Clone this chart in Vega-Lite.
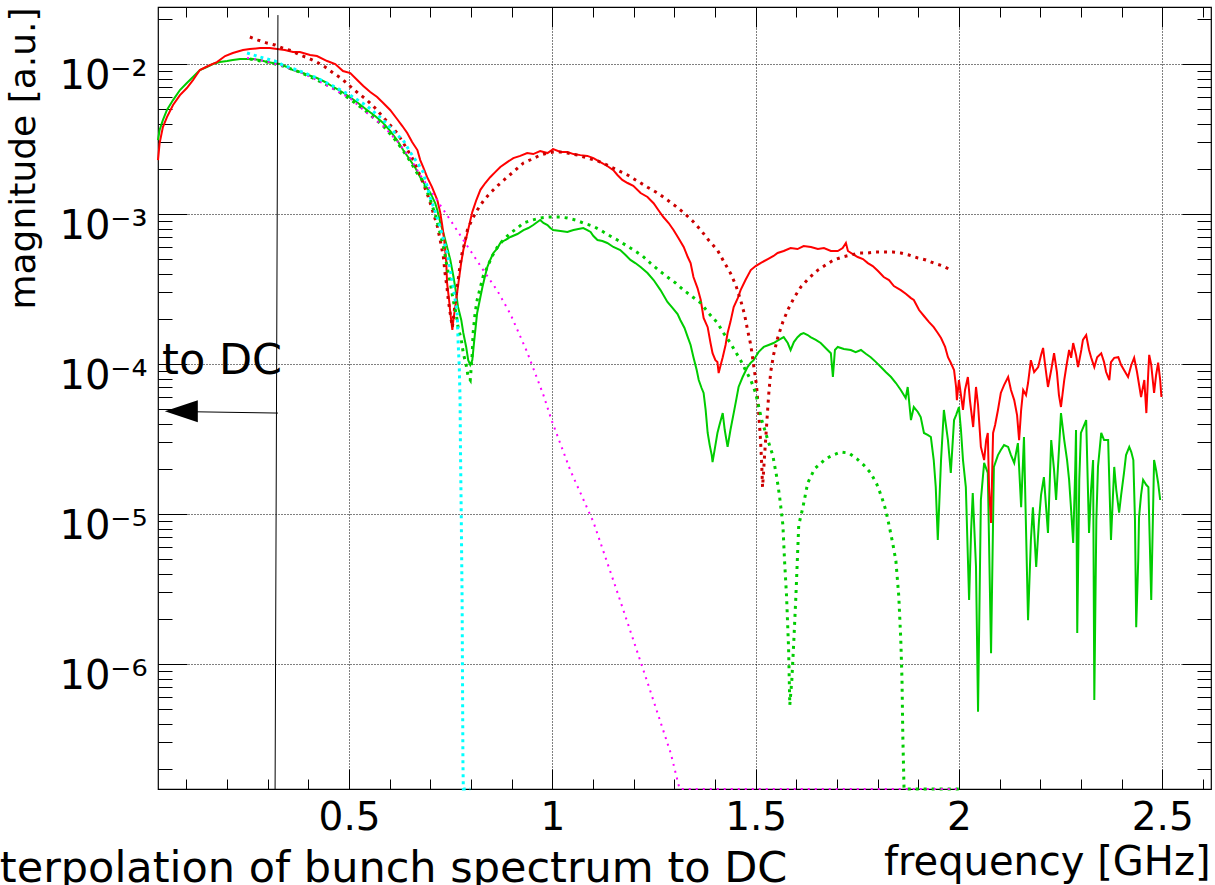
{
"$schema": "https://vega.github.io/schema/vega-lite/v6.json",
"width": 1053, "height": 782,
"autosize": {"type": "none"},
"padding": {"left": 158, "top": 7, "right": 4, "bottom": 96},
"background": "white",
"config": {
  "view": {"stroke": "#000", "strokeWidth": 1.2},
  "font": "DejaVu Sans",
  "axis": {"labelFont": "DejaVu Sans", "titleFont": "DejaVu Sans", "labelColor": "#000", "titleColor": "#000", "tickColor": "#000", "tickWidth": 1, "domain": false, "labelFlush": false, "labelOverlap": false, "labelBound": false, "titleFontWeight": "normal"}
},
"datasets": {
"redMeas": [
{"f":0.030,"m":2.29e-3},{"f":0.034,"m":2.97e-3},{"f":0.042,"m":3.80e-3},{"f":0.052,"m":4.43e-3},{"f":0.067,"m":5.33e-3},{"f":0.084,"m":6.21e-3},{"f":0.101,"m":6.92e-3},{"f":0.116,"m":7.82e-3},{"f":0.133,"m":9.12e-3},{"f":0.153,"m":9.70e-3},{"f":0.175,"m":1.031e-2},{"f":0.195,"m":1.131e-2},{"f":0.214,"m":1.184e-2},{"f":0.239,"m":1.240e-2},{"f":0.256,"m":1.259e-2},{"f":0.281,"m":1.278e-2},{"f":0.305,"m":1.278e-2},{"f":0.323,"m":1.259e-2},{"f":0.342,"m":1.240e-2},{"f":0.362,"m":1.202e-2},{"f":0.379,"m":1.202e-2},{"f":0.404,"m":1.148e-2},{"f":0.421,"m":1.131e-2},{"f":0.446,"m":1.047e-2},{"f":0.466,"m":1.0e-2},{"f":0.485,"m":8.98e-3},{"f":0.503,"m":8.71e-3},{"f":0.520,"m":7.82e-3},{"f":0.535,"m":7.13e-3},{"f":0.552,"m":6.51e-3},{"f":0.569,"m":6.03e-3},{"f":0.584,"m":5.50e-3},{"f":0.601,"m":4.94e-3},{"f":0.618,"m":4.30e-3},{"f":0.631,"m":3.86e-3},{"f":0.643,"m":3.47e-3},{"f":0.655,"m":3.02e-3},{"f":0.668,"m":2.67e-3},{"f":0.675,"m":2.29e-3},{"f":0.682,"m":2.06e-3},{"f":0.692,"m":1.76e-3},{"f":0.704,"m":1.51e-3},{"f":0.717,"m":1.24e-3},{"f":0.724,"m":1.03e-3},{"f":0.729,"m":8.45e-4},{"f":0.734,"m":6.71e-4},{"f":0.739,"m":4.79e-4},{"f":0.741,"m":3.47e-4},{"f":0.746,"m":2.67e-4},{"f":0.749,"m":2.19e-4},{"f":0.754,"m":1.69e-4},{"f":0.756,"m":1.91e-4},{"f":0.761,"m":2.40e-4},{"f":0.766,"m":3.02e-4},{"f":0.769,"m":3.47e-4},{"f":0.776,"m":4.79e-4},{"f":0.781,"m":5.75e-4},{"f":0.791,"m":7.47e-4},{"f":0.803,"m":1.03e-3},{"f":0.813,"m":1.24e-3},{"f":0.823,"m":1.45e-3},{"f":0.835,"m":1.61e-3},{"f":0.847,"m":1.76e-3},{"f":0.860,"m":1.91e-3},{"f":0.872,"m":2.06e-3},{"f":0.889,"m":2.22e-3},{"f":0.904,"m":2.36e-3},{"f":0.921,"m":2.44e-3},{"f":0.938,"m":2.55e-3},{"f":0.953,"m":2.51e-3},{"f":0.970,"m":2.63e-3},{"f":0.988,"m":2.55e-3},{"f":1.002,"m":2.71e-3},{"f":1.020,"m":2.59e-3},{"f":1.037,"m":2.59e-3},{"f":1.052,"m":2.51e-3},{"f":1.069,"m":2.47e-3},{"f":1.086,"m":2.44e-3},{"f":1.101,"m":2.36e-3},{"f":1.118,"m":2.22e-3},{"f":1.135,"m":2.09e-3},{"f":1.150,"m":1.96e-3},{"f":1.160,"m":1.82e-3},{"f":1.172,"m":1.69e-3},{"f":1.185,"m":1.61e-3},{"f":1.199,"m":1.54e-3},{"f":1.217,"m":1.38e-3},{"f":1.234,"m":1.30e-3},{"f":1.249,"m":1.18e-3},{"f":1.261,"m":1.06e-3},{"f":1.273,"m":9.55e-4},{"f":1.286,"m":8.71e-4},{"f":1.298,"m":7.82e-4},{"f":1.310,"m":6.92e-4},{"f":1.323,"m":6.03e-4},{"f":1.333,"m":5.17e-4},{"f":1.340,"m":4.71e-4},{"f":1.347,"m":3.80e-4},{"f":1.357,"m":3.21e-4},{"f":1.365,"m":2.67e-4},{"f":1.372,"m":2.03e-4},{"f":1.382,"m":1.76e-4},{"f":1.389,"m":1.38e-4},{"f":1.394,"m":1.18e-4},{"f":1.401,"m":1.06e-4},{"f":1.406,"m":1.03e-4},{"f":1.409,"m":8.71e-5},{"f":1.414,"m":9.85e-5},{"f":1.419,"m":1.11e-4},{"f":1.426,"m":1.34e-4},{"f":1.431,"m":1.61e-4},{"f":1.438,"m":1.91e-4},{"f":1.446,"m":2.40e-4},{"f":1.456,"m":2.75e-4},{"f":1.463,"m":3.11e-4},{"f":1.475,"m":3.63e-4},{"f":1.488,"m":4.23e-4},{"f":1.500,"m":4.50e-4},{"f":1.512,"m":4.71e-4},{"f":1.530,"m":5.01e-4},{"f":1.544,"m":5.25e-4},{"f":1.554,"m":5.50e-4},{"f":1.569,"m":5.67e-4},{"f":1.586,"m":5.93e-4},{"f":1.603,"m":5.84e-4},{"f":1.618,"m":6.12e-4},{"f":1.636,"m":6.03e-4},{"f":1.653,"m":5.84e-4},{"f":1.668,"m":5.93e-4},{"f":1.685,"m":5.67e-4},{"f":1.702,"m":5.67e-4},{"f":1.714,"m":5.93e-4},{"f":1.722,"m":6.41e-4},{"f":1.727,"m":5.67e-4},{"f":1.739,"m":5.41e-4},{"f":1.751,"m":5.17e-4},{"f":1.764,"m":5.01e-4},{"f":1.776,"m":4.71e-4},{"f":1.788,"m":4.50e-4},{"f":1.801,"m":4.17e-4},{"f":1.815,"m":3.80e-4},{"f":1.828,"m":3.63e-4},{"f":1.840,"m":3.31e-4},{"f":1.857,"m":3.11e-4},{"f":1.870,"m":2.93e-4},{"f":1.882,"m":2.75e-4},{"f":1.889,"m":2.67e-4},{"f":1.902,"m":2.29e-4},{"f":1.914,"m":2.09e-4},{"f":1.926,"m":1.91e-4},{"f":1.938,"m":1.76e-4},{"f":1.948,"m":1.61e-4},{"f":1.956,"m":1.49e-4},{"f":1.966,"m":1.30e-4},{"f":1.973,"m":1.11e-4},{"f":1.980,"m":1.02e-4},{"f":1.988,"m":9.12e-5},{"f":1.993,"m":7.03e-5},{"f":1.995,"m":5.75e-5},{"f":2.000,"m":7.82e-5},{"f":2.005,"m":6.21e-5},{"f":2.010,"m":4.94e-5},{"f":2.015,"m":6.71e-5},{"f":2.022,"m":8.19e-5},{"f":2.027,"m":5.75e-5},{"f":2.035,"m":3.80e-5},{"f":2.042,"m":7.03e-5},{"f":2.047,"m":5.33e-5},{"f":2.054,"m":2.80e-5},{"f":2.062,"m":2.29e-5},{"f":2.067,"m":3.11e-5},{"f":2.071,"m":3.47e-5},{"f":2.074,"m":1.51e-5},{"f":2.079,"m":8.71e-6},{"f":2.084,"m":3.47e-5},{"f":2.089,"m":3.92e-5},{"f":2.096,"m":4.94e-5},{"f":2.103,"m":6.41e-5},{"f":2.111,"m":7.24e-5},{"f":2.121,"m":8.19e-5},{"f":2.128,"m":6.71e-5},{"f":2.136,"m":5.75e-5},{"f":2.143,"m":4.57e-5},{"f":2.148,"m":3.11e-5},{"f":2.153,"m":4.94e-5},{"f":2.158,"m":6.71e-5},{"f":2.165,"m":6.21e-5},{"f":2.170,"m":7.47e-5},{"f":2.177,"m":1.06e-4},{"f":2.185,"m":8.84e-5},{"f":2.195,"m":9.55e-5},{"f":2.202,"m":1.15e-4},{"f":2.207,"m":1.28e-4},{"f":2.212,"m":9.85e-5},{"f":2.219,"m":7.03e-5},{"f":2.227,"m":9.12e-5},{"f":2.234,"m":1.18e-4},{"f":2.241,"m":8.84e-5},{"f":2.246,"m":6.21e-5},{"f":2.251,"m":5.17e-5},{"f":2.259,"m":7.82e-5},{"f":2.264,"m":9.55e-5},{"f":2.271,"m":1.24e-4},{"f":2.276,"m":1.10e-4},{"f":2.281,"m":1.38e-4},{"f":2.288,"m":1.15e-4},{"f":2.293,"m":9.55e-5},{"f":2.301,"m":1.24e-4},{"f":2.305,"m":1.45e-4},{"f":2.313,"m":1.56e-4},{"f":2.320,"m":1.24e-4},{"f":2.325,"m":1.11e-4},{"f":2.333,"m":9.55e-5},{"f":2.340,"m":1.11e-4},{"f":2.350,"m":1.18e-4},{"f":2.357,"m":1.03e-4},{"f":2.362,"m":8.84e-5},{"f":2.370,"m":7.82e-5},{"f":2.374,"m":1.03e-4},{"f":2.382,"m":1.10e-4},{"f":2.392,"m":1.11e-4},{"f":2.399,"m":9.85e-5},{"f":2.406,"m":9.12e-5},{"f":2.416,"m":8.19e-5},{"f":2.424,"m":9.85e-5},{"f":2.431,"m":1.10e-4},{"f":2.438,"m":8.84e-5},{"f":2.448,"m":6.03e-5},{"f":2.456,"m":7.82e-5},{"f":2.461,"m":4.71e-5},{"f":2.466,"m":9.12e-5},{"f":2.468,"m":1.15e-4},{"f":2.473,"m":9.85e-5},{"f":2.480,"m":6.41e-5},{"f":2.485,"m":8.45e-5},{"f":2.490,"m":1.02e-4},{"f":2.495,"m":7.82e-5},{"f":2.498,"m":6.03e-5}
],
"redModel": [
{"f":0.256,"m":1.514e-2},{"f":0.276,"m":1.445e-2},{"f":0.298,"m":1.380e-2},{"f":0.318,"m":1.339e-2},{"f":0.337,"m":1.278e-2},{"f":0.360,"m":1.221e-2},{"f":0.379,"m":1.148e-2},{"f":0.399,"m":1.097e-2},{"f":0.421,"m":1.031e-2},{"f":0.441,"m":9.55e-3},{"f":0.461,"m":8.71e-3},{"f":0.483,"m":7.94e-3},{"f":0.502,"m":7.13e-3},{"f":0.522,"m":6.41e-3},{"f":0.544,"m":5.75e-3},{"f":0.564,"m":5.09e-3},{"f":0.584,"m":4.43e-3},{"f":0.601,"m":3.92e-3},{"f":0.618,"m":3.47e-3},{"f":0.638,"m":2.84e-3},{"f":0.658,"m":2.29e-3},{"f":0.670,"m":1.93e-3},{"f":0.682,"m":1.61e-3},{"f":0.695,"m":1.30e-3},{"f":0.707,"m":1.02e-3},{"f":0.717,"m":8.32e-4},{"f":0.724,"m":6.71e-4},{"f":0.732,"m":5.17e-4},{"f":0.736,"m":4.04e-4},{"f":0.741,"m":3.21e-4},{"f":0.744,"m":2.67e-4},{"f":0.749,"m":2.15e-4},{"f":0.754,"m":1.76e-4},{"f":0.759,"m":2.29e-4},{"f":0.766,"m":3.26e-4},{"f":0.773,"m":4.57e-4},{"f":0.778,"m":5.50e-4},{"f":0.786,"m":6.71e-4},{"f":0.791,"m":7.82e-4},{"f":0.803,"m":9.26e-4},{"f":0.815,"m":1.06e-3},{"f":0.830,"m":1.22e-3},{"f":0.847,"m":1.38e-3},{"f":0.867,"m":1.56e-3},{"f":0.889,"m":1.76e-3},{"f":0.909,"m":1.96e-3},{"f":0.929,"m":2.19e-3},{"f":0.951,"m":2.33e-3},{"f":0.970,"m":2.47e-3},{"f":0.988,"m":2.55e-3},{"f":1.002,"m":2.59e-3},{"f":1.020,"m":2.59e-3},{"f":1.037,"m":2.55e-3},{"f":1.062,"m":2.47e-3},{"f":1.086,"m":2.36e-3},{"f":1.111,"m":2.26e-3},{"f":1.135,"m":2.12e-3},{"f":1.160,"m":1.96e-3},{"f":1.185,"m":1.82e-3},{"f":1.209,"m":1.66e-3},{"f":1.234,"m":1.51e-3},{"f":1.259,"m":1.38e-3},{"f":1.283,"m":1.24e-3},{"f":1.303,"m":1.13e-3},{"f":1.323,"m":1.02e-3},{"f":1.345,"m":8.98e-4},{"f":1.365,"m":7.82e-4},{"f":1.384,"m":6.71e-4},{"f":1.406,"m":5.75e-4},{"f":1.421,"m":4.86e-4},{"f":1.438,"m":4.04e-4},{"f":1.451,"m":3.36e-4},{"f":1.463,"m":2.67e-4},{"f":1.473,"m":2.12e-4},{"f":1.480,"m":1.69e-4},{"f":1.488,"m":1.34e-4},{"f":1.495,"m":9.85e-5},{"f":1.502,"m":7.24e-5},{"f":1.507,"m":4.94e-5},{"f":1.512,"m":3.11e-5},{"f":1.515,"m":2.12e-5},{"f":1.517,"m":1.51e-5},{"f":1.522,"m":2.47e-5},{"f":1.527,"m":3.92e-5},{"f":1.532,"m":6.21e-5},{"f":1.537,"m":8.84e-5},{"f":1.544,"m":1.15e-4},{"f":1.554,"m":1.49e-4},{"f":1.567,"m":1.91e-4},{"f":1.579,"m":2.29e-4},{"f":1.594,"m":2.75e-4},{"f":1.611,"m":3.26e-4},{"f":1.631,"m":3.74e-4},{"f":1.653,"m":4.23e-4},{"f":1.672,"m":4.57e-4},{"f":1.692,"m":4.94e-4},{"f":1.714,"m":5.17e-4},{"f":1.734,"m":5.33e-4},{"f":1.754,"m":5.50e-4},{"f":1.776,"m":5.50e-4},{"f":1.796,"m":5.58e-4},{"f":1.815,"m":5.58e-4},{"f":1.837,"m":5.58e-4},{"f":1.857,"m":5.50e-4},{"f":1.877,"m":5.33e-4},{"f":1.899,"m":5.09e-4},{"f":1.919,"m":4.94e-4},{"f":1.938,"m":4.71e-4},{"f":1.961,"m":4.50e-4},{"f":1.980,"m":4.23e-4}
],
"greenMeas": [
{"f":0.030,"m":3.11e-3},{"f":0.034,"m":3.63e-3},{"f":0.042,"m":4.23e-3},{"f":0.052,"m":4.94e-3},{"f":0.067,"m":5.75e-3},{"f":0.084,"m":6.71e-3},{"f":0.101,"m":7.47e-3},{"f":0.116,"m":8.19e-3},{"f":0.133,"m":9.12e-3},{"f":0.150,"m":9.55e-3},{"f":0.165,"m":1.0e-2},{"f":0.182,"m":1.031e-2},{"f":0.200,"m":1.047e-2},{"f":0.214,"m":1.063e-2},{"f":0.232,"m":1.080e-2},{"f":0.249,"m":1.080e-2},{"f":0.264,"m":1.080e-2},{"f":0.281,"m":1.063e-2},{"f":0.298,"m":1.031e-2},{"f":0.313,"m":1.016e-2},{"f":0.330,"m":1.0e-2},{"f":0.347,"m":9.55e-3},{"f":0.362,"m":9.12e-3},{"f":0.379,"m":8.84e-3},{"f":0.399,"m":8.45e-3},{"f":0.421,"m":8.07e-3},{"f":0.441,"m":7.59e-3},{"f":0.461,"m":7.03e-3},{"f":0.483,"m":6.51e-3},{"f":0.502,"m":6.03e-3},{"f":0.522,"m":5.50e-3},{"f":0.544,"m":4.94e-3},{"f":0.564,"m":4.50e-3},{"f":0.584,"m":4.04e-3},{"f":0.601,"m":3.58e-3},{"f":0.618,"m":3.11e-3},{"f":0.633,"m":2.67e-3},{"f":0.650,"m":2.29e-3},{"f":0.663,"m":2.03e-3},{"f":0.675,"m":1.76e-3},{"f":0.687,"m":1.56e-3},{"f":0.700,"m":1.38e-3},{"f":0.712,"m":1.18e-3},{"f":0.717,"m":1.06e-3},{"f":0.724,"m":8.84e-4},{"f":0.732,"m":7.47e-4},{"f":0.741,"m":6.03e-4},{"f":0.749,"m":4.94e-4},{"f":0.756,"m":3.92e-4},{"f":0.761,"m":3.26e-4},{"f":0.768,"m":2.40e-4},{"f":0.776,"m":1.96e-4},{"f":0.781,"m":1.61e-4},{"f":0.788,"m":1.30e-4},{"f":0.793,"m":1.06e-4},{"f":0.798,"m":9.85e-5},{"f":0.803,"m":1.06e-4},{"f":0.808,"m":1.45e-4},{"f":0.815,"m":2.19e-4},{"f":0.823,"m":2.80e-4},{"f":0.828,"m":3.26e-4},{"f":0.835,"m":3.92e-4},{"f":0.840,"m":4.43e-4},{"f":0.847,"m":4.94e-4},{"f":0.855,"m":5.50e-4},{"f":0.865,"m":5.93e-4},{"f":0.872,"m":6.41e-4},{"f":0.884,"m":6.71e-4},{"f":0.897,"m":7.03e-4},{"f":0.914,"m":7.36e-4},{"f":0.929,"m":7.82e-4},{"f":0.941,"m":8.07e-4},{"f":0.953,"m":8.45e-4},{"f":0.963,"m":8.84e-4},{"f":0.970,"m":9.12e-4},{"f":0.978,"m":8.71e-4},{"f":0.988,"m":8.45e-4},{"f":0.995,"m":8.07e-4},{"f":1.002,"m":7.82e-4},{"f":1.020,"m":7.70e-4},{"f":1.037,"m":7.59e-4},{"f":1.044,"m":7.70e-4},{"f":1.052,"m":7.82e-4},{"f":1.064,"m":7.94e-4},{"f":1.076,"m":8.07e-4},{"f":1.086,"m":7.82e-4},{"f":1.094,"m":7.59e-4},{"f":1.101,"m":7.13e-4},{"f":1.111,"m":6.71e-4},{"f":1.123,"m":6.61e-4},{"f":1.135,"m":6.41e-4},{"f":1.150,"m":6.03e-4},{"f":1.167,"m":5.75e-4},{"f":1.180,"m":5.33e-4},{"f":1.192,"m":4.94e-4},{"f":1.204,"m":4.71e-4},{"f":1.217,"m":4.43e-4},{"f":1.234,"m":4.04e-4},{"f":1.249,"m":3.63e-4},{"f":1.266,"m":3.11e-4},{"f":1.283,"m":2.59e-4},{"f":1.296,"m":2.36e-4},{"f":1.308,"m":2.15e-4},{"f":1.315,"m":1.96e-4},{"f":1.325,"m":1.74e-4},{"f":1.333,"m":1.51e-4},{"f":1.340,"m":1.34e-4},{"f":1.347,"m":1.11e-4},{"f":1.355,"m":9.12e-5},{"f":1.360,"m":7.82e-5},{"f":1.367,"m":6.92e-5},{"f":1.372,"m":6.41e-5},{"f":1.377,"m":4.94e-5},{"f":1.382,"m":3.47e-5},{"f":1.387,"m":2.88e-5},{"f":1.392,"m":2.47e-5},{"f":1.394,"m":2.22e-5},{"f":1.399,"m":2.67e-5},{"f":1.406,"m":3.47e-5},{"f":1.411,"m":3.92e-5},{"f":1.419,"m":4.71e-5},{"f":1.424,"m":3.63e-5},{"f":1.431,"m":2.80e-5},{"f":1.438,"m":3.63e-5},{"f":1.446,"m":4.71e-5},{"f":1.453,"m":5.93e-5},{"f":1.458,"m":7.03e-5},{"f":1.468,"m":8.19e-5},{"f":1.480,"m":9.55e-5},{"f":1.488,"m":1.02e-4},{"f":1.495,"m":1.06e-4},{"f":1.507,"m":1.20e-4},{"f":1.520,"m":1.30e-4},{"f":1.532,"m":1.34e-4},{"f":1.544,"m":1.38e-4},{"f":1.557,"m":1.45e-4},{"f":1.569,"m":1.51e-4},{"f":1.579,"m":1.38e-4},{"f":1.586,"m":1.24e-4},{"f":1.594,"m":1.40e-4},{"f":1.603,"m":1.51e-4},{"f":1.611,"m":1.58e-4},{"f":1.618,"m":1.61e-4},{"f":1.628,"m":1.56e-4},{"f":1.635,"m":1.51e-4},{"f":1.648,"m":1.45e-4},{"f":1.660,"m":1.38e-4},{"f":1.672,"m":1.28e-4},{"f":1.685,"m":1.18e-4},{"f":1.690,"m":8.19e-5},{"f":1.695,"m":1.24e-4},{"f":1.702,"m":1.30e-4},{"f":1.717,"m":1.26e-4},{"f":1.734,"m":1.24e-4},{"f":1.746,"m":1.20e-4},{"f":1.759,"m":1.24e-4},{"f":1.771,"m":1.17e-4},{"f":1.783,"m":1.11e-4},{"f":1.796,"m":1.03e-4},{"f":1.808,"m":9.55e-5},{"f":1.820,"m":8.84e-5},{"f":1.833,"m":8.19e-5},{"f":1.845,"m":7.47e-5},{"f":1.857,"m":6.71e-5},{"f":1.869,"m":5.93e-5},{"f":1.874,"m":7.03e-5},{"f":1.882,"m":4.23e-5},{"f":1.889,"m":5.17e-5},{"f":1.899,"m":4.79e-5},{"f":1.906,"m":4.43e-5},{"f":1.914,"m":3.47e-5},{"f":1.924,"m":3.36e-5},{"f":1.931,"m":3.26e-5},{"f":1.938,"m":2.29e-5},{"f":1.943,"m":1.51e-5},{"f":1.948,"m":6.71e-6},{"f":1.956,"m":2.29e-5},{"f":1.963,"m":4.94e-5},{"f":1.973,"m":3.11e-5},{"f":1.980,"m":1.88e-5},{"f":1.988,"m":4.23e-5},{"f":1.993,"m":4.57e-5},{"f":2.000,"m":5.17e-5},{"f":2.005,"m":3.63e-5},{"f":2.010,"m":2.29e-5},{"f":2.017,"m":1.51e-5},{"f":2.025,"m":2.67e-6},{"f":2.030,"m":7.82e-6},{"f":2.034,"m":1.38e-5},{"f":2.042,"m":4.43e-6},{"f":2.047,"m":4.8e-7},{"f":2.054,"m":1.24e-5},{"f":2.062,"m":2.19e-5},{"f":2.071,"m":1.88e-5},{"f":2.079,"m":1.18e-6},{"f":2.086,"m":2.06e-5},{"f":2.096,"m":2.47e-5},{"f":2.103,"m":2.67e-5},{"f":2.111,"m":2.88e-5},{"f":2.121,"m":2.80e-5},{"f":2.128,"m":2.47e-5},{"f":2.136,"m":2.19e-5},{"f":2.145,"m":2.97e-5},{"f":2.153,"m":1.11e-5},{"f":2.160,"m":3.26e-5},{"f":2.170,"m":1.96e-6},{"f":2.177,"m":6.71e-6},{"f":2.182,"m":1.11e-5},{"f":2.190,"m":4.43e-6},{"f":2.197,"m":9.12e-6},{"f":2.202,"m":1.34e-5},{"f":2.209,"m":1.76e-5},{"f":2.219,"m":7.47e-6},{"f":2.227,"m":3.11e-5},{"f":2.234,"m":1.96e-5},{"f":2.239,"m":1.24e-5},{"f":2.246,"m":2.67e-5},{"f":2.251,"m":4.71e-5},{"f":2.259,"m":3.11e-5},{"f":2.266,"m":2.29e-5},{"f":2.271,"m":1.69e-5},{"f":2.276,"m":1.06e-5},{"f":2.281,"m":6.41e-6},{"f":2.286,"m":1.96e-5},{"f":2.288,"m":3.63e-5},{"f":2.291,"m":1.61e-6},{"f":2.296,"m":1.69e-5},{"f":2.300,"m":3.47e-5},{"f":2.308,"m":3.92e-5},{"f":2.313,"m":4.23e-5},{"f":2.320,"m":7.47e-6},{"f":2.325,"m":1.45e-5},{"f":2.330,"m":2.29e-5},{"f":2.333,"m":5.75e-7},{"f":2.338,"m":9.12e-6},{"f":2.342,"m":2.06e-5},{"f":2.350,"m":3.47e-5},{"f":2.357,"m":3.11e-5},{"f":2.367,"m":3.11e-5},{"f":2.374,"m":6.71e-6},{"f":2.382,"m":2.06e-5},{"f":2.387,"m":1.45e-5},{"f":2.394,"m":1.02e-5},{"f":2.399,"m":1.34e-5},{"f":2.406,"m":1.88e-5},{"f":2.411,"m":2.47e-5},{"f":2.419,"m":2.80e-5},{"f":2.424,"m":2.59e-5},{"f":2.429,"m":2.29e-5},{"f":2.433,"m":9.12e-6},{"f":2.436,"m":1.76e-6},{"f":2.441,"m":4.94e-6},{"f":2.443,"m":9.55e-6},{"f":2.448,"m":1.34e-5},{"f":2.453,"m":1.69e-5},{"f":2.461,"m":1.56e-5},{"f":2.466,"m":1.51e-5},{"f":2.473,"m":2.67e-6},{"f":2.478,"m":1.24e-5},{"f":2.480,"m":2.29e-5},{"f":2.485,"m":1.96e-5},{"f":2.490,"m":1.61e-5},{"f":2.495,"m":1.24e-5}
],
"greenModel": [
{"f":0.256,"m":1.080e-2},{"f":0.298,"m":1.031e-2},{"f":0.337,"m":9.70e-3},{"f":0.379,"m":8.84e-3},{"f":0.421,"m":7.82e-3},{"f":0.461,"m":6.92e-3},{"f":0.502,"m":5.84e-3},{"f":0.544,"m":4.79e-3},{"f":0.584,"m":3.86e-3},{"f":0.618,"m":3.02e-3},{"f":0.650,"m":2.26e-3},{"f":0.667,"m":1.88e-3},{"f":0.682,"m":1.66e-3},{"f":0.700,"m":1.24e-3},{"f":0.712,"m":9.85e-4},{"f":0.724,"m":7.47e-4},{"f":0.734,"m":5.75e-4},{"f":0.741,"m":4.43e-4},{"f":0.749,"m":3.47e-4},{"f":0.756,"m":2.67e-4},{"f":0.764,"m":2.12e-4},{"f":0.768,"m":1.76e-4},{"f":0.776,"m":1.45e-4},{"f":0.781,"m":1.18e-4},{"f":0.788,"m":9.85e-5},{"f":0.793,"m":8.19e-5},{"f":0.798,"m":7.82e-5},{"f":0.803,"m":1.18e-4},{"f":0.805,"m":1.61e-4},{"f":0.810,"m":2.19e-4},{"f":0.815,"m":2.67e-4},{"f":0.823,"m":3.26e-4},{"f":0.830,"m":3.86e-4},{"f":0.840,"m":4.43e-4},{"f":0.852,"m":5.25e-4},{"f":0.865,"m":6.03e-4},{"f":0.879,"m":6.71e-4},{"f":0.897,"m":7.47e-4},{"f":0.914,"m":8.07e-4},{"f":0.929,"m":8.71e-4},{"f":0.951,"m":9.12e-4},{"f":0.970,"m":9.40e-4},{"f":0.988,"m":9.55e-4},{"f":1.002,"m":9.55e-4},{"f":1.020,"m":9.55e-4},{"f":1.037,"m":9.40e-4},{"f":1.057,"m":9.12e-4},{"f":1.076,"m":8.71e-4},{"f":1.099,"m":8.32e-4},{"f":1.118,"m":7.82e-4},{"f":1.138,"m":7.24e-4},{"f":1.160,"m":6.71e-4},{"f":1.180,"m":6.21e-4},{"f":1.200,"m":5.75e-4},{"f":1.222,"m":5.25e-4},{"f":1.241,"m":4.71e-4},{"f":1.261,"m":4.23e-4},{"f":1.283,"m":3.80e-4},{"f":1.303,"m":3.47e-4},{"f":1.323,"m":3.11e-4},{"f":1.345,"m":2.80e-4},{"f":1.365,"m":2.55e-4},{"f":1.384,"m":2.19e-4},{"f":1.406,"m":1.88e-4},{"f":1.421,"m":1.61e-4},{"f":1.438,"m":1.38e-4},{"f":1.451,"m":1.20e-4},{"f":1.463,"m":1.06e-4},{"f":1.475,"m":9.12e-5},{"f":1.488,"m":7.82e-5},{"f":1.500,"m":6.41e-5},{"f":1.515,"m":4.23e-5},{"f":1.530,"m":3.11e-5},{"f":1.542,"m":2.47e-5},{"f":1.552,"m":1.76e-5},{"f":1.559,"m":1.30e-5},{"f":1.567,"m":8.45e-6},{"f":1.571,"m":4.94e-6},{"f":1.576,"m":2.84e-6},{"f":1.581,"m":1.28e-6},{"f":1.584,"m":5.33e-7},{"f":1.589,"m":7.82e-7},{"f":1.594,"m":1.45e-6},{"f":1.599,"m":2.84e-6},{"f":1.606,"m":8.45e-6},{"f":1.616,"m":1.10e-5},{"f":1.628,"m":1.61e-5},{"f":1.645,"m":2.00e-5},{"f":1.672,"m":2.33e-5},{"f":1.690,"m":2.47e-5},{"f":1.709,"m":2.59e-5},{"f":1.729,"m":2.55e-5},{"f":1.749,"m":2.33e-5},{"f":1.766,"m":2.12e-5},{"f":1.783,"m":1.88e-5},{"f":1.798,"m":1.58e-5},{"f":1.810,"m":1.30e-5},{"f":1.820,"m":1.06e-5},{"f":1.828,"m":8.45e-6},{"f":1.837,"m":6.41e-6},{"f":1.845,"m":4.86e-6},{"f":1.852,"m":2.84e-6},{"f":1.857,"m":1.45e-6},{"f":1.860,"m":7.82e-7},{"f":1.862,"m":3.31e-7},{"f":1.865,"m":1.468e-7},{"f":2.000,"m":1.468e-7}
],
"cyan": [
{"f":0.249,"m":1.184e-2},{"f":0.281,"m":1.113e-2},{"f":0.318,"m":1.047e-2},{"f":0.337,"m":9.85e-3},{"f":0.379,"m":8.98e-3},{"f":0.421,"m":8.07e-3},{"f":0.461,"m":7.13e-3},{"f":0.502,"m":6.21e-3},{"f":0.544,"m":5.25e-3},{"f":0.584,"m":4.23e-3},{"f":0.613,"m":3.47e-3},{"f":0.633,"m":3.11e-3},{"f":0.650,"m":2.59e-3},{"f":0.667,"m":2.22e-3},{"f":0.682,"m":1.91e-3},{"f":0.700,"m":1.28e-3},{"f":0.712,"m":1.03e-3},{"f":0.724,"m":8.19e-4},{"f":0.734,"m":6.51e-4},{"f":0.741,"m":5.50e-4},{"f":0.749,"m":4.23e-4},{"f":0.756,"m":3.26e-4},{"f":0.761,"m":2.67e-4},{"f":0.766,"m":2.19e-4},{"f":0.768,"m":1.45e-4},{"f":0.771,"m":9.55e-5},{"f":0.773,"m":5.75e-5},{"f":0.774,"m":2.67e-5},{"f":0.776,"m":9.12e-6},{"f":0.778,"m":2.67e-6},{"f":0.779,"m":7.82e-7},{"f":0.780,"m":2.29e-7},{"f":0.781,"m":1.468e-7},{"f":0.798,"m":1.468e-7}
],
"magenta": [
{"f":0.249,"m":1.097e-2},{"f":0.293,"m":1.047e-2},{"f":0.337,"m":9.70e-3},{"f":0.379,"m":8.84e-3},{"f":0.421,"m":7.82e-3},{"f":0.461,"m":6.81e-3},{"f":0.502,"m":5.93e-3},{"f":0.544,"m":4.71e-3},{"f":0.584,"m":3.86e-3},{"f":0.618,"m":3.07e-3},{"f":0.650,"m":2.36e-3},{"f":0.675,"m":1.82e-3},{"f":0.700,"m":1.45e-3},{"f":0.724,"m":1.15e-3},{"f":0.749,"m":9.12e-4},{"f":0.781,"m":6.71e-4},{"f":0.830,"m":4.23e-4},{"f":0.865,"m":3.07e-4},{"f":0.897,"m":2.15e-4},{"f":0.938,"m":1.20e-4},{"f":0.978,"m":6.21e-5},{"f":0.998,"m":4.23e-5},{"f":1.044,"m":1.96e-5},{"f":1.101,"m":8.84e-6},{"f":1.163,"m":2.84e-6},{"f":1.232,"m":7.82e-7},{"f":1.291,"m":2.55e-7},{"f":1.313,"m":1.468e-7},{"f":2.000,"m":1.468e-7}
],
"marker": [{"f":0.318,"m":1.468e-7},{"f":0.325,"m":2.12e-2}],
"arrow": [{"f":0.087,"m":4.82e-5},{"f":0.325,"m":4.71e-5}],
"arrowHead": [{"f":0.0874,"m":4.84e-5}],
"noteDC": [{"t":"to DC","f":0.040,"m":8.58e-5}],
"noteBottom": [{"t":"Interpolation of bunch spectrum to DC","f":1.578,"m":3.52e-8}]
},
"resolve": {"axis": {"x": "independent", "y": "independent"}},
"layer": [
{
 "data": {"name": "greenMeas"},
 "mark": {"type": "line", "color": "#00cc00", "strokeWidth": 2},
 "encoding": {
  "x": {"field": "f", "type": "quantitative", "scale": {"domain": [0.03, 2.62], "nice": false, "zero": false},
   "axis": {"orient": "bottom", "values": [0.5, 1, 1.5, 2, 2.5], "format": "~g", "ticks": false, "labels": true, "labelFontSize": 39, "labelPadding": 9,
    "grid": true, "gridColor": "#000", "gridDash": [1, 2], "gridWidth": 1,
    "title": "frequency [GHz]", "titleFontSize": 40, "titleX": 1052, "titleY": 85, "titleAlign": "right", "titleBaseline": "alphabetic"}},
  "y": {"field": "m", "type": "quantitative", "scale": {"type": "log", "domain": [1.468e-7, 0.024], "nice": false},
   "axis": {"orient": "left", "values": [0.01, 0.001, 0.0001, 0.00001, 0.000001], "ticks": false, "labelFontSize": 40, "labelPadding": 11, "labelBaseline": "alphabetic", "labelOffset": 24,
    "labelExpr": "'10' + (datum.value > 0.005 ? '⁻²' : datum.value > 0.0005 ? '⁻³' : datum.value > 0.00005 ? '⁻⁴' : datum.value > 0.000005 ? '⁻⁵' : '⁻⁶')",
    "grid": true, "gridColor": "#000", "gridDash": [1, 2], "gridWidth": 1,
    "title": "magnitude [a.u.]", "titleFontSize": 36, "titleX": -124, "titleY": 0, "titleAngle": 270, "titleAlign": "right", "titleBaseline": "alphabetic"}}
 }
},
{
 "data": {"name": "redMeas"},
 "mark": {"type": "line", "color": "#ff0000", "strokeWidth": 2},
 "encoding": {
  "x": {"field": "f", "type": "quantitative", "scale": {"domain": [0.03, 2.62], "nice": false, "zero": false},
   "axis": {"orient": "bottom", "values": [0.5, 1, 1.5, 2, 2.5], "offset": -20, "tickSize": 20, "labels": false, "grid": false, "title": null}},
  "y": {"field": "m", "type": "quantitative", "scale": {"type": "log", "domain": [1.468e-7, 0.024], "nice": false},
   "axis": {"orient": "left", "values": [0.01, 0.001, 0.0001, 0.00001, 0.000001], "offset": -29, "tickSize": 29, "labels": false, "grid": false, "title": null}}
 }
},
{
 "data": {"name": "redModel"},
 "mark": {"type": "line", "color": "#cc0000", "strokeWidth": 3, "strokeDash": [3, 5]},
 "encoding": {
  "x": {"field": "f", "type": "quantitative", "scale": {"domain": [0.03, 2.62], "nice": false, "zero": false},
   "axis": {"orient": "bottom", "values": [0.1,0.2,0.3,0.4,0.6,0.7,0.8,0.9,1.1,1.2,1.3,1.4,1.6,1.7,1.8,1.9,2.1,2.2,2.3,2.4,2.6], "offset": -10, "tickSize": 10, "labels": false, "grid": false, "title": null}},
  "y": {"field": "m", "type": "quantitative", "scale": {"type": "log", "domain": [1.468e-7, 0.024], "nice": false},
   "axis": {"orient": "left", "values": [2e-7,3e-7,4e-7,5e-7,6e-7,7e-7,8e-7,9e-7,2e-6,3e-6,4e-6,5e-6,6e-6,7e-6,8e-6,9e-6,2e-5,3e-5,4e-5,5e-5,6e-5,7e-5,8e-5,9e-5,2e-4,3e-4,4e-4,5e-4,6e-4,7e-4,8e-4,9e-4,2e-3,3e-3,4e-3,5e-3,6e-3,7e-3,8e-3,9e-3,2e-2], "offset": -14, "tickSize": 14, "labels": false, "grid": false, "title": null}}
 }
},
{
 "data": {"name": "greenModel"},
 "mark": {"type": "line", "color": "#00cc00", "strokeWidth": 3, "strokeDash": [3, 5]},
 "encoding": {
  "x": {"field": "f", "type": "quantitative", "scale": {"domain": [0.03, 2.62], "nice": false, "zero": false},
   "axis": {"orient": "top", "values": [0.5, 1, 1.5, 2, 2.5], "offset": -20, "tickSize": 20, "labels": false, "grid": false, "title": null}},
  "y": {"field": "m", "type": "quantitative", "scale": {"type": "log", "domain": [1.468e-7, 0.024], "nice": false},
   "axis": {"orient": "right", "values": [0.01, 0.001, 0.0001, 0.00001, 0.000001], "offset": -29, "tickSize": 29, "labels": false, "grid": false, "title": null}}
 }
},
{
 "data": {"name": "magenta"},
 "mark": {"type": "line", "color": "#ff00ff", "strokeWidth": 2, "strokeDash": [2, 5]},
 "encoding": {
  "x": {"field": "f", "type": "quantitative", "scale": {"domain": [0.03, 2.62], "nice": false, "zero": false},
   "axis": {"orient": "top", "values": [0.1,0.2,0.3,0.4,0.6,0.7,0.8,0.9,1.1,1.2,1.3,1.4,1.6,1.7,1.8,1.9,2.1,2.2,2.3,2.4,2.6], "offset": -10, "tickSize": 10, "labels": false, "grid": false, "title": null}},
  "y": {"field": "m", "type": "quantitative", "scale": {"type": "log", "domain": [1.468e-7, 0.024], "nice": false},
   "axis": {"orient": "right", "values": [2e-7,3e-7,4e-7,5e-7,6e-7,7e-7,8e-7,9e-7,2e-6,3e-6,4e-6,5e-6,6e-6,7e-6,8e-6,9e-6,2e-5,3e-5,4e-5,5e-5,6e-5,7e-5,8e-5,9e-5,2e-4,3e-4,4e-4,5e-4,6e-4,7e-4,8e-4,9e-4,2e-3,3e-3,4e-3,5e-3,6e-3,7e-3,8e-3,9e-3,2e-2], "offset": -14, "tickSize": 14, "labels": false, "grid": false, "title": null}}
 }
},
{
 "data": {"name": "cyan"},
 "mark": {"type": "line", "color": "#00ffff", "strokeWidth": 3, "strokeDash": [3, 4]},
 "encoding": {
  "x": {"field": "f", "type": "quantitative", "axis": null},
  "y": {"field": "m", "type": "quantitative", "axis": null}
 }
},
{
 "data": {"name": "marker"},
 "mark": {"type": "line", "color": "#000", "strokeWidth": 1},
 "encoding": {
  "x": {"field": "f", "type": "quantitative", "axis": null},
  "y": {"field": "m", "type": "quantitative", "axis": null}
 }
},
{
 "data": {"name": "arrow"},
 "mark": {"type": "line", "color": "#000", "strokeWidth": 1},
 "encoding": {
  "x": {"field": "f", "type": "quantitative", "axis": null},
  "y": {"field": "m", "type": "quantitative", "axis": null}
 }
},
{
 "data": {"name": "arrowHead"},
 "mark": {"type": "point", "shape": "M -1 0 L 1 -0.667 L 1 0.667 Z", "size": 1089, "filled": true, "color": "#000", "opacity": 1, "strokeWidth": 0},
 "encoding": {
  "x": {"field": "f", "type": "quantitative", "axis": null},
  "y": {"field": "m", "type": "quantitative", "axis": null}
 }
},
{
 "data": {"name": "noteDC"},
 "mark": {"type": "text", "font": "DejaVu Sans", "fontSize": 43, "align": "left", "baseline": "alphabetic", "color": "#000"},
 "encoding": {
  "x": {"field": "f", "type": "quantitative", "axis": null},
  "y": {"field": "m", "type": "quantitative", "axis": null},
  "text": {"field": "t"}
 }
},
{
 "data": {"name": "noteBottom"},
 "mark": {"type": "text", "font": "DejaVu Sans", "fontSize": 43, "align": "right", "baseline": "alphabetic", "color": "#000"},
 "encoding": {
  "x": {"field": "f", "type": "quantitative", "axis": null},
  "y": {"field": "m", "type": "quantitative", "axis": null},
  "text": {"field": "t"}
 }
}
]
}
